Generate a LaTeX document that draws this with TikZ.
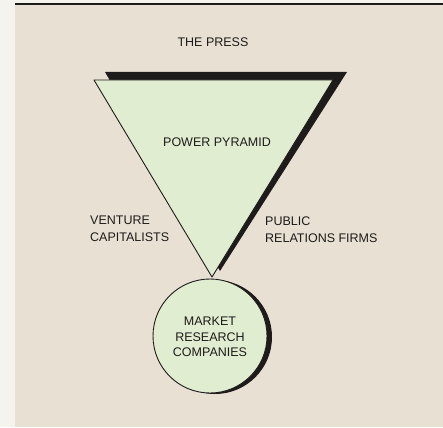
\documentclass[tikz,border=0pt]{standalone}
\usepackage{fontspec}
\setmainfont{Liberation Sans}
\definecolor{paper}{RGB}{232,225,211}
\definecolor{strip}{RGB}{244,243,238}
\definecolor{pale}{RGB}{225,237,209}
\definecolor{ink}{RGB}{30,28,26}
\tikzset{
  lbl/.style={font=\fontsize{12.5}{17}\selectfont, text=ink, inner sep=0pt},
  shadowfill/.style={fill=ink, draw=none},
  shapefill/.style={fill=pale, draw=ink, line width=0.9pt, line join=round},
}
\begin{document}
\begin{tikzpicture}[x=1pt,y=-1pt]
\useasboundingbox (0,0) rectangle (443,427);
\fill[strip] (0,0) rectangle (443,427);
\fill[paper] (15,5) rectangle (443,427);
\draw[ink, line width=2pt] (15,4) -- (443,4);
% triangle
\coordinate (tl) at (94,80);
\coordinate (tr) at (333,80);
\coordinate (tb) at (212,277);
\fill[shadowfill] ([shift={(11,-8)}]tl) -- ([shift={(14,-8)}]tr) -- ([shift={(8,-6)}]tb) -- cycle;
\draw[shapefill] (tl) -- (tr) -- (tb) -- cycle;
% circle
\coordinate (cc) at (210,336);
\fill[shadowfill] ([shift={(5,1)}]cc) circle (57);
\draw[shapefill] (cc) circle (57);
% labels
\node[lbl] (press) at (213,42) {THE PRESS};
\node[lbl] (pyramid) at (217,142) {POWER PYRAMID};
\node[lbl, anchor=west, align=left] (venture) at (90,229) {VENTURE\\CAPITALISTS};
\node[lbl, anchor=west, align=left] (pr) at (265,230) {PUBLIC\\RELATIONS FIRMS};
\node[lbl, align=center, font=\fontsize{12.5}{15.5}\selectfont] (market) at (210,337) {MARKET\\RESEARCH\\COMPANIES};
\end{tikzpicture}
\end{document}
